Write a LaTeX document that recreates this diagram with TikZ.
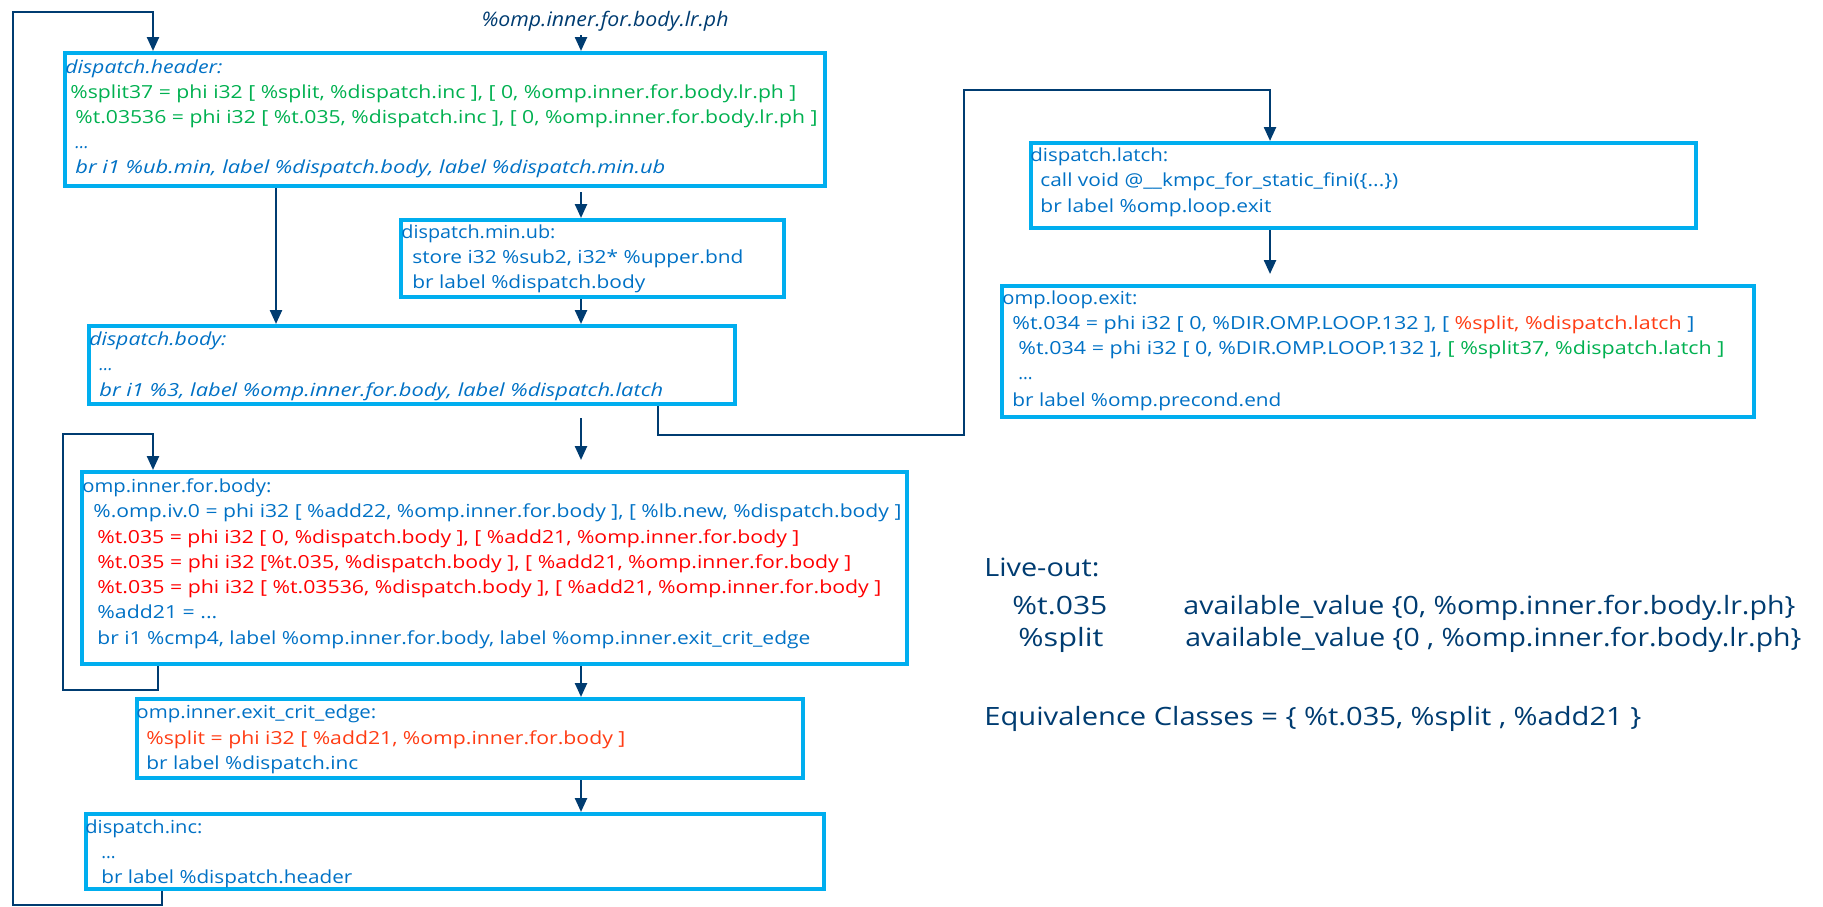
\documentclass[tikz,border=0pt]{standalone}
\usepackage{fontspec}
\usepackage{graphicx}
\setmainfont{Open Sans}
\usetikzlibrary{arrows.meta}
\definecolor{boxc}{RGB}{0,174,239}
\definecolor{navy}{RGB}{0,60,113}
\definecolor{codeblue}{RGB}{0,113,197}
\definecolor{cgreen}{RGB}{0,176,80}
\definecolor{cred}{RGB}{255,0,0}
\definecolor{corange}{RGB}{255,60,20}
\newcommand\tw[2]{\resizebox{#1pt}{\height}{#2}}
\begin{document}
\begin{tikzpicture}[x=0.5pt,y=-0.5pt,
 bb/.style={draw=boxc, line width=2.2pt, inner sep=0pt, anchor=north west},
 ct/.style={anchor=base west, inner sep=0pt, text=codeblue, font=\fontsize{9}{11}\selectfont},
 ci/.style={ct, font=\fontsize{9}{11}\selectfont\itshape},
 cg/.style={ct, text=cgreen},
 cr/.style={ct, text=cred},
 co/.style={ct, text=corange},
 lo/.style={anchor=base west, inner sep=0pt, text=navy, font=\fontsize{12.6}{15}\selectfont},
 conn/.style={draw=navy, line width=1.2pt},
 arr/.style={conn, -{Triangle[length=7pt,width=6pt]}},
]
\useasboundingbox (0,0) rectangle (1823,906);

% boxes
\node[bb, minimum width=380pt, minimum height=66.5pt] (hdr) at (63,51) {};
\node[bb, minimum width=191.5pt, minimum height=38.5pt] (minub) at (399,218) {};
\node[bb, minimum width=323pt, minimum height=39pt] (body) at (87,324) {};
\node[bb, minimum width=332.5pt, minimum height=42.5pt] (latch) at (1029,141) {};
\node[bb, minimum width=376pt, minimum height=65.5pt] (lexit) at (1000,284) {};
\node[bb, minimum width=412.5pt, minimum height=96pt] (fbody) at (80,470) {};
\node[bb, minimum width=333pt, minimum height=39.5pt] (crit) at (135,697) {};
\node[bb, minimum width=369pt, minimum height=37.5pt] (inc) at (84,812) {};

% top label
\node[anchor=base, inner sep=0pt, text=navy, font=\fontsize{10}{12}\selectfont\itshape] (lrph) at (605,26) {\tw{123.5}{\%omp.inner.for.body.lr.ph}};

% header text
\node[ci] (h0) at (65,73) {\tw{78.5}{dispatch.header:}};
\node[cg] (h1) at (70,98) {\tw{363}{\%split37 = phi i32 [ \%split, \%dispatch.inc ], [ 0, \%omp.inner.for.body.lr.ph ]}};
\node[cg] (h2) at (75,123) {\tw{371}{\%t.03536 = phi i32 [ \%t.035, \%dispatch.inc ], [ 0, \%omp.inner.for.body.lr.ph ]}};
\node[ci] (h3) at (75,148) {...};
\node[ci] (h4) at (75,173) {\tw{295}{br i1 \%ub.min, label \%dispatch.body, label \%dispatch.min.ub}};

% min.ub
\node[ct] (m0) at (401,238) {\tw{77}{dispatch.min.ub:}};
\node[ct] (m1) at (412,263) {\tw{165.5}{store i32 \%sub2, i32* \%upper.bnd}};
\node[ct] (m2) at (412,288) {\tw{116.5}{br label \%dispatch.body}};

% dispatch.body
\node[ci] (b0) at (89,345) {\tw{68.5}{dispatch.body:}};
\node[ci] (b1) at (99,370) {...};
\node[ci] (b2) at (99,396) {\tw{282}{br i1 \%3, label \%omp.inner.for.body, label \%dispatch.latch}};

% latch
\node[ct] (l0) at (1030,161) {\tw{69}{dispatch.latch:}};
\node[ct] (l1) at (1040,186) {\tw{179}{call void @\_\_kmpc\_for\_static\_fini(\{...\})}};
\node[ct] (l2) at (1040,212) {\tw{115.5}{br label \%omp.loop.exit}};

% loop exit
\node[ct] (e0) at (1002,304) {\tw{67.5}{omp.loop.exit:}};
\node[ct] (e1) at (1012,329) {\tw{341}{\%t.034 = phi i32 [ 0, \%DIR.OMP.LOOP.132 ], [ {\color{corange}\%split, \%dispatch.latch} ]}};
\node[ct] (e2) at (1018,354) {\tw{353}{\%t.034 = phi i32 [ 0, \%DIR.OMP.LOOP.132 ], {\color{cgreen}[ \%split37, \%dispatch.latch ]}}};
\node[ct] (e3) at (1018,379) {...};
\node[ct] (e4) at (1012,406) {\tw{134.5}{br label \%omp.precond.end}};

% inner for body
\node[ct] (f0) at (82,492) {\tw{94.5}{omp.inner.for.body:}};
\node[ct] (f1) at (93,517) {\tw{404}{\%.omp.iv.0 = phi i32 [ \%add22, \%omp.inner.for.body ], [ \%lb.new, \%dispatch.body ]}};
\node[cr] (f2) at (97,543) {\tw{351}{\%t.035 = phi i32 [ 0, \%dispatch.body ], [ \%add21, \%omp.inner.for.body ]}};
\node[cr] (f3) at (97,568) {\tw{377}{\%t.035 = phi i32 [\%t.035, \%dispatch.body ], [ \%add21, \%omp.inner.for.body ]}};
\node[cr] (f4) at (97,593) {\tw{392}{\%t.035 = phi i32 [ \%t.03536, \%dispatch.body ], [ \%add21, \%omp.inner.for.body ]}};
\node[ct] (f5) at (97,618) {\tw{60}{\%add21 = ...}};
\node[ct] (f6) at (97,644) {\tw{356.5}{br i1 \%cmp4, label \%omp.inner.for.body, label \%omp.inner.exit\_crit\_edge}};

% crit edge
\node[ct] (c0) at (136,718) {\tw{120}{omp.inner.exit\_crit\_edge:}};
\node[co] (c1) at (146,744) {\tw{239.5}{\%split = phi i32 [ \%add21, \%omp.inner.for.body ]}};
\node[ct] (c2) at (146,769) {\tw{106}{br label \%dispatch.inc}};

% dispatch.inc
\node[ct] (i0) at (85,833) {\tw{58.5}{dispatch.inc:}};
\node[ct] (i1) at (101,858) {...};
\node[ct] (i2) at (101,883) {\tw{125.5}{br label \%dispatch.header}};

% live-out
\node[lo] (lv0) at (984,576) {\tw{57.5}{Live-out:}};
\node[lo] (lv1) at (1012,614) {\tw{47.5}{\%t.035}};
\node[lo] (lv2) at (1183,614) {\tw{306}{available\_value \{0, \%omp.inner.for.body.lr.ph\}}};
\node[lo] (lv3) at (1018,646) {\tw{42.5}{\%split}};
\node[lo] (lv4) at (1185,646) {\tw{308}{available\_value \{0 , \%omp.inner.for.body.lr.ph\}}};
\node[lo] (lv5) at (984,725) {\tw{328.5}{Equivalence Classes = \{ \%t.035, \%split , \%add21 \}}};

% connector coordinates
\coordinate (xA) at (581,0);
\coordinate (xB) at (162,0);
\coordinate (xC) at (153,0);
\coordinate (xD) at (276,0);
\coordinate (xE) at (658,0);
\coordinate (xF) at (1270,0);
\coordinate (xG) at (158,0);
\coordinate (lpBL) at (13,905);
\coordinate (lpTL) at (13,12);
\coordinate (rtB) at (964,435);
\coordinate (rtT) at (964,90);
\coordinate (slB) at (63,690);
\coordinate (slT) at (63,434);

% connectors
\draw[arr, shorten <=2pt] (xA |- lrph.south) -- (xA |- hdr.north);
\draw[arr] (xB |- inc.south) |- (lpBL) |- (xC |- lpTL) -- (xC |- hdr.north);
\draw[arr] (xD |- hdr.south) -- (xD |- body.north);
\draw[arr, shorten <=2pt] (xA |- hdr.south) -- (xA |- minub.north);
\draw[arr] (xA |- minub.south) -- (xA |- body.north);
\draw[arr, shorten <=6pt, shorten >=5pt] (xA |- body.south) -- (xA |- fbody.north);
\draw[arr] (xE |- body.south) |- (rtB) |- (xF |- rtT) -- (xF |- latch.north);
\draw[arr, shorten >=5pt] (xF |- latch.south) -- (xF |- lexit.north);
\draw[arr] (xG |- fbody.south) |- (slB) |- (xC |- slT) -- (xC |- fbody.north);
\draw[arr] (xA |- fbody.south) -- (xA |- crit.north);
\draw[arr] (xA |- crit.south) -- (xA |- inc.north);
\end{tikzpicture}
\end{document}
